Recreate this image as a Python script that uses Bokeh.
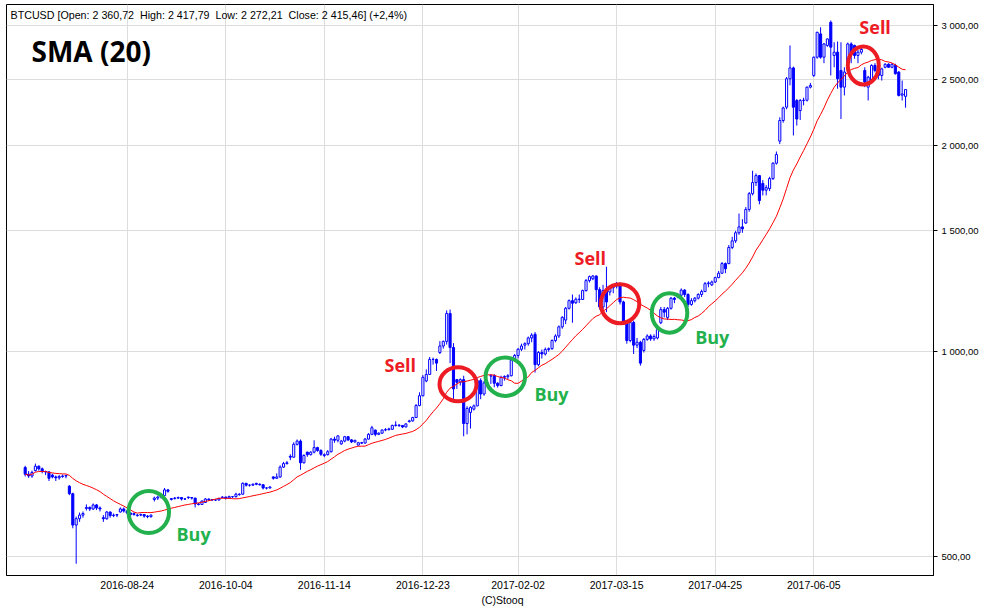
import numpy as np
import pandas as pd
from bokeh.plotting import figure
from bokeh.models import ColumnDataSource, Range1d, FixedTicker, Label, Title
from bokeh.embed import file_html
from bokeh.resources import INLINE

# ---- sessions: weekdays, one missing session ----
FIRST_SESSION = "2016-07-13"
LAST_SESSION = "2017-07-12"
MISSING_SESSIONS = ["2016-12-26"]

# ---- OHLC per session (BTCUSD) ----
opens = [
 675,660,656,668,678,672,666,665,658,654, 652,655,656,634,618,556,568,575,588,590,
 587,595,589,570,568,581,574,575,581,587, 583,579,576,574,575,576,573,572,606,609,
 611,614,626,606,608,609,610,607,611,610, 609,597,596,600,607,606,605,605,610,611,
 609,612,612,616,617,640,636,636,640,638, 637,630,630,654,651,654,676,684,701,699,
 730,738,686,711,705,711,722,715,703,705, 712,743,740,731,738,749,741,736,728,734,
 733,743,755,766,755,758,766,767,768,778, 779,778,774,788,790,799,832,860,904,924,
 972,972,995,1017,1033,1135,1012,908,900,908, 783,813,822,831,905,865,898,919,920,897,
 890,915,917,920,970,985,1006,1020,1025,1045, 1058,955,995,990,1005,1008,1036,1052,1085,1110,
 1155,1185,1177,1191,1190,1226,1268,1276,1288,1230, 1160,1226,1220,1238,1245,1255,1180,1101,1036,1101,
 1020,1030,1002,1040,1052,1042,1045,1100,1150,1120, 1155,1195,1200,1207,1228,1210,1170,1185,1195,1210,
 1222,1255,1250,1262,1281,1300,1343,1343,1418,1450, 1490,1520,1540,1612,1700,1765,1807,1760,1720,1730,
 1789,1884,2030,2176,2276,2505,2598,2328,2250,2328, 2330,2435,2533,2694,2914,2694,2803,3030,2710,2740,
 2576,2435,2620,2817,2803,2710,2740,2576,2435,2490, 2620,2576,2533,2604,2630,2604,2620,2562,2370,2360.72]
highs = [
 679,667,668,684,680,675,668,667,661,657, 658,659,658,636,620,572,580,582,596,592,
 598,597,592,575,583,582,578,577,590,590, 584,580,580,577,578,577,575,576,612,614,
 616,630,628,609,611,612,611,609,612,611, 609,599,604,609,608,607,607,610,613,612,
 614,613,620,619,642,641,638,640,641,640, 638,632,634,655,662,680,688,690,706,735,
 742,742,706,712,713,740,724,718,708,716, 746,749,753,741,751,750,743,741,736,736,
 746,758,777,767,760,768,771,772,780,789, 781,779,784,793,801,836,870,922,940,980,
 978,975,1034,1036,1147,1150,1027,910,912,920, 830,830,835,912,912,904,900,925,925,900,
 920,921,925,975,990,1010,1025,1030,1050,1062, 1066,1000,1005,1012,1012,1040,1058,1090,1125,1160,
 1190,1210,1198,1210,1230,1275,1290,1292,1290,1240, 1250,1329,1245,1250,1262,1260,1185,1110,1110,1108,
 1045,1035,1045,1058,1058,1058,1085,1160,1160,1160, 1200,1200,1215,1235,1232,1215,1195,1200,1215,1230,
 1262,1265,1268,1285,1310,1350,1348,1430,1470,1500, 1590,1560,1625,1710,1837,1820,1810,1780,1750,1800,
 1890,1960,2200,2280,2520,2803,2610,2340,2340,2350, 2440,2470,2700,2935,2980,2825,2870,3049,2833,2840,
 2833,2604,2830,2833,2810,2760,2780,2604,2530,2630, 2640,2590,2600,2640,2640,2640,2635,2570,2490,2417.79]
lows = [
 655,652,652,666,668,662,658,645,651,645, 648,652,651,615,550,488,562,570,584,583,
 585,585,582,562,566,570,571,571,580,580, 577,572,574,572,573,570,569,570,602,605,
 608,613,620,604,606,607,604,605,607,606, 590,594,595,599,603,603,603,604,609,606,
 608,609,610,614,616,633,633,635,636,635, 627,627,629,648,650,652,674,682,692,698,
 727,670,684,700,703,708,712,702,699,703, 710,734,735,729,735,738,733,734,727,731,
 732,742,753,750,753,756,763,765,767,775, 774,771,773,786,788,798,830,858,900,923,
 955,935,990,1008,1022,960,850,880,890,750, 755,770,818,830,850,860,885,895,885,884,
 888,905,910,918,965,975,1000,1005,1018,1030, 930,950,975,985,998,1004,1030,1045,1078,1095,
 1150,1100,1172,1176,1188,1222,1260,1270,1180,1150, 1150,1140,1206,1215,1235,1170,1095,1025,1030,990,
 1010,952,995,1035,1035,1035,1040,1095,1120,1110, 1150,1175,1195,1200,1200,1160,1165,1178,1190,1200,
 1220,1240,1245,1258,1278,1298,1300,1340,1410,1440, 1480,1490,1535,1600,1690,1745,1640,1690,1690,1715,
 1780,1875,2010,2160,2260,2450,2069,2139,2180,2290, 2320,2425,2520,2680,2680,2640,2790,2533,2604,2422,
 2187,2368,2600,2640,2680,2640,2720,2435,2328,2480, 2560,2500,2490,2595,2600,2595,2540,2360,2328,2272.21]
closes = [
 660,656,664,678,672,666,665,651,654,652, 655,656,657,618,556,568,575,578,590,587,
 595,589,587,568,581,574,575,576,587,583, 579,576,578,575,576,573,572,575,609,611,
 614,626,623,608,609,610,607,607,610,609, 597,596,603,607,606,605,605,608,611,609,
 612,612,617,617,640,636,636,638,638,637, 630,630,632,651,654,676,684,686,699,730,
 738,686,703,705,711,722,715,706,705,712, 743,740,751,738,749,741,736,740,734,733,
 743,755,772,755,758,766,767,769,778,779, 778,774,782,790,799,832,860,915,924,972,
 972,960,1017,1033,1135,1012,880,900,908,783, 824,827,831,905,865,898,893,920,897,890,
 915,918,920,970,985,1006,1017,1025,1045,1055, 955,995,990,1005,1008,1036,1052,1085,1120,1155,
 1185,1175,1191,1190,1226,1268,1285,1288,1230,1160, 1226,1180,1238,1245,1255,1180,1101,1036,1101,1020,
 1030,960,1040,1052,1042,1050,1075,1150,1140,1155, 1195,1190,1207,1228,1210,1170,1185,1195,1210,1222,
 1255,1258,1262,1281,1300,1343,1320,1418,1450,1490, 1520,1510,1612,1700,1765,1807,1661,1720,1735,1789,
 1884,1940,2176,2270,2505,2598,2276,2187,2328,2330, 2435,2449,2694,2930,2694,2817,2865,2787,2740,2505,
 2435,2562,2817,2730,2710,2740,2765,2477,2518,2620, 2576,2533,2590,2630,2604,2630,2548,2368,2380,2415.46]

SMA_PERIOD = 20

# ---- axes ----
x_tick_dates = ["2016-08-24", "2016-10-04", "2016-11-14", "2016-12-23",
                "2017-02-02", "2017-03-15", "2017-04-25", "2017-06-05"]
y_ticks = [500, 1000, 1500, 2000, 2500, 3000]
y_tick_labels = ["500,00", "1 000,00", "1 500,00", "2 000,00", "2 500,00", "3 000,00"]

header_text = ("BTCUSD [Open: 2 360,72\u00a0 High: 2 417,79\u00a0 Low: 2 272,21\u00a0 "
               "Close: 2 415,46] (+2,4%)")

# ---- hand-drawn signals (x in session units, y in price) ----
sig_kind = ["Buy", "Sell", "Buy", "Sell", "Buy", "Sell"]
ring_x = [36.36, 127.33, 141.25, 175.0, 189.56, 246.57]
ring_price = [581, 894, 917, 1173, 1137, 2620]
ring_w = [40.5, 37, 39.5, 38.5, 35.5, 31]
ring_h = [42, 34, 38.5, 39, 39.5, 38]
word_x = [44.5, 105.7, 149.8, 161.6, 197.1, 245.4]
word_price = [539.4, 953.4, 864.6, 1370.6, 1049, 2987.7]

GREEN = "#22b14c"
RED = "#ed1c24"
BLUE = "#0000ff"

sessions = pd.bdate_range(FIRST_SESSION, LAST_SESSION)
sessions = sessions[~sessions.isin(pd.to_datetime(MISSING_SESSIONS))]
assert len(sessions) == len(closes) == len(opens) == len(highs) == len(lows)

df = pd.DataFrame({"i": np.arange(len(closes)), "open": opens, "high": highs,
                   "low": lows, "close": closes})
df["sma"] = df["close"].rolling(SMA_PERIOD, min_periods=1).mean()
up = df[df["close"] >= df["open"]]
dn = df[df["close"] < df["open"]]

p = figure(width=1000, height=610, y_axis_type="log", y_axis_location="right",
           output_backend="svg", toolbar_location=None,
           x_range=Range1d(-5.5, 267.22), y_range=Range1d(469.0, 3218.0),
           min_border_left=6, min_border_right=67, min_border_top=4, min_border_bottom=35)
p.background_fill_color = "white"
p.border_fill_color = "white"
p.outline_line_color = "black"
p.outline_line_width = 1

tick_idx = [int(sessions.get_loc(pd.Timestamp(d))) for d in x_tick_dates]
xticker = FixedTicker(ticks=tick_idx)
yticker = FixedTicker(ticks=y_ticks)
p.xaxis.ticker = xticker
p.yaxis.ticker = yticker
p.xgrid.ticker = xticker
p.ygrid.ticker = yticker
p.grid.grid_line_color = "#dcdcdc"
p.grid.grid_line_width = 1
p.xaxis.major_label_overrides = {i: d for i, d in zip(tick_idx, x_tick_dates)}
p.yaxis.major_label_overrides = dict(zip(y_ticks, y_tick_labels))

for ax in (p.xaxis, p.yaxis):
    ax.axis_line_color = "black"
    ax.minor_tick_line_color = None
    ax.major_label_text_color = "black"
    ax.major_label_text_font = "Liberation Sans"
p.yaxis.major_tick_out = 4
p.yaxis.major_tick_in = 0
p.yaxis.major_tick_line_color = "black"
p.yaxis.major_label_standoff = 4
p.yaxis.major_label_text_font_size = "9.5px"
p.xaxis.major_tick_line_color = None
p.xaxis.major_tick_out = 0
p.xaxis.major_tick_in = 0
p.xaxis.major_label_standoff = 5
p.xaxis.major_label_text_font_size = "10.5px"

# candles
bar_w = 0.62
p.segment(x0="i", y0="low", x1="i", y1="high", source=ColumnDataSource(df),
          line_color=BLUE, line_width=1)
p.vbar(x="i", width=bar_w, bottom="open", top="close", source=ColumnDataSource(up),
       fill_color="white", line_color=BLUE, line_width=1)
p.vbar(x="i", width=bar_w, bottom="close", top="open", source=ColumnDataSource(dn),
       fill_color=BLUE, line_color=BLUE, line_width=1)

# SMA(20)
p.line(x="i", y="sma", source=ColumnDataSource(df), line_color="#ff0000", line_width=1)

# signal rings and words
colors = [GREEN if k == "Buy" else RED for k in sig_kind]
p.ellipse(x=ring_x, y=ring_price, width=ring_w, height=ring_h,
          width_units="screen", height_units="screen",
          fill_color=None, line_color=colors, line_width=4)
for k, xx, pr, c in zip(sig_kind, word_x, word_price, colors):
    p.add_layout(Label(x=xx, y=pr, text=k, text_color=c,
                       text_font="Open Sans", text_font_style="bold",
                       text_font_size="18px", text_align="left",
                       text_baseline="alphabetic"))

# header and title texts (screen units relative to the plot frame)
p.add_layout(Label(x=4, y=560.5, x_units="screen", y_units="screen", text=header_text,
                   text_font="Liberation Sans", text_font_size="10.7px",
                   text_color="black", text_baseline="alphabetic"))
p.add_layout(Label(x=25, y=524.5, x_units="screen", y_units="screen", text="SMA (20)",
                   text_font="Open Sans", text_font_style="bold", text_font_size="28px",
                   text_color="black", text_baseline="alphabetic"))

p.add_layout(Title(text="(C)Stooq", align="left", offset=475, standoff=0,
                   text_font="Liberation Sans", text_font_size="10.5px",
                   text_font_style="normal", text_color="black"), "below")

open("out.html", "w").write(file_html(p, INLINE))
